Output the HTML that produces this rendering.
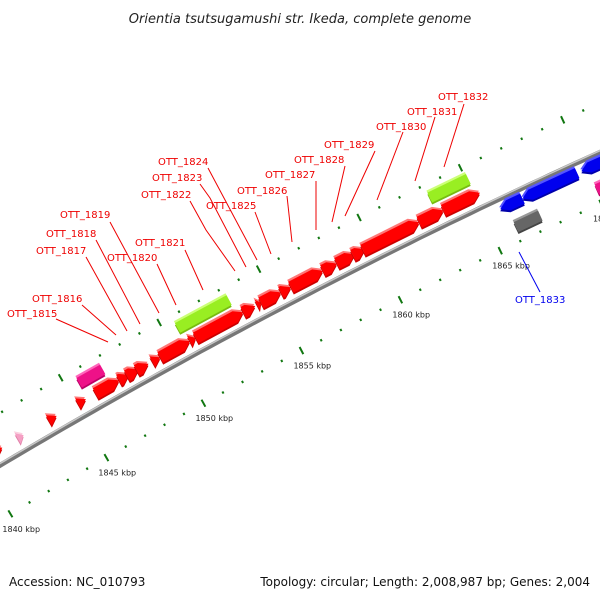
<!DOCTYPE html>
<html><head><meta charset="utf-8"><style>
html,body{margin:0;padding:0;background:#fff;}
svg{display:block;font-family:"DejaVu Sans","Liberation Sans",sans-serif;}
</style></head><body>
<svg id="map" width="600" height="600" viewBox="0 0 600 600" xmlns="http://www.w3.org/2000/svg">
<text x="300" y="23" text-anchor="middle" font-size="13" font-style="italic" fill="#222">Orientia tsutsugamushi str. Ikeda, complete genome</text>
<g id="ticks"></g>
<g id="backbone"></g>
<g id="genes"></g>
<g id="labels"></g>
<text x="9" y="586" font-size="12" fill="#111">Accession: NC_010793</text>
<text x="590" y="586" text-anchor="end" font-size="12" fill="#111">Topology: circular; Length: 2,008,987 bp; Genes: 2,004</text>
</svg>
<script>
const geneStart = [1840.6,1842.0,1843.6,1845.1,1846.0,1847.2,1847.6,1848.1,1848.9,1849.3,1850.8,1851.1,1853.5,1854.2,1854.4,1855.4,1855.9,1857.5,1858.2,1859.0,1859.5,1862.3,1863.5,1850.6,1863.2,1845.6,1865.8,1866.9,1869.8,1866.1,1870.1];
const geneEnd   = [1841.2,1842.3,1844.0,1845.5,1847.2,1847.7,1848.2,1848.7,1849.3,1850.8,1851.1,1853.5,1854.1,1854.4,1855.4,1855.9,1857.5,1858.2,1859.1,1859.6,1862.3,1863.5,1865.3,1853.2,1865.1,1846.8,1866.9,1869.6,1873.0,1867.3,1873.0];
const geneTrack = ['fwd','fwd','fwd','fwd','fwd','fwd','fwd','fwd','fwd','fwd','fwd','fwd','fwd','fwd','fwd','fwd','fwd','fwd','fwd','fwd','fwd','fwd','fwd','outer','outer','outer','rev','rev','rev','inner','inner'];
const geneColor = ['red','pinklight','red','red','red','red','red','red','red','red','red','red','red','red','red','red','red','red','red','red','red','red','red','lime','lime','pink','blue','blue','blue','gray','pink'];
const majorTicks = [1840,1845,1850,1855,1860,1865,1870];
const tickLabels = ['1840 kbp','1845 kbp','1850 kbp','1855 kbp','1860 kbp','1865 kbp','1870 kbp'];
const labelNames = ['OTT_1815','OTT_1816','OTT_1817','OTT_1818','OTT_1819','OTT_1820','OTT_1821','OTT_1822','OTT_1823','OTT_1824','OTT_1825','OTT_1826','OTT_1827','OTT_1828','OTT_1829','OTT_1830','OTT_1831','OTT_1832','OTT_1833'];

const NS='http://www.w3.org/2000/svg';
const CX=3141, CY=5755;
function phi(k){return (-30.85+(k-1840)*0.2088)*Math.PI/180;}
function P(k,r){const a=phi(k);return [CX+r*Math.sin(a), CY-r*Math.cos(a)];}
function el(tag,attrs,parent){const e=document.createElementNS(NS,tag);for(const a in attrs)e.setAttribute(a,attrs[a]);parent.appendChild(e);return e;}

// backbone
const bb=document.getElementById('backbone');
function arcPath(r){let d='';for(let k=1836;k<=1876;k+=0.5){const p=P(k,r);d+=(d?'L':'M')+p[0].toFixed(1)+','+p[1].toFixed(1);}return d;}
let b1=el('path',{d:arcPath(6152),stroke:'#777',"stroke-width":5,fill:'none'},bb);


let b2=el('path',{d:arcPath(6153.5),stroke:'#c8c8c8',"stroke-width":1.5,fill:'none'},bb);



// ticks
const tg=document.getElementById('ticks');
const rows=[6197,6105];
for(let k=1836;k<=1876;k++){
  for(const r of rows){
    const major=(k%5===0);
    if(major){
      const a=P(k,r-4),b=P(k,r+4);
      const t=el('line',{x1:a[0],y1:a[1],x2:b[0],y2:b[1],stroke:'#117711',"stroke-width":2},tg);
      
      
    }else{
      const a=P(k,r-1.2),b=P(k,r+1.2);
      const t=el('line',{x1:a[0],y1:a[1],x2:b[0],y2:b[1],stroke:'#117711',"stroke-width":2},tg);
      
      
    }
  }
}
majorTicks.forEach((k,i)=>{
  const p=P(k,6105);
  const t=el('text',{x:p[0]-8,y:p[1]+18,"font-size":8,fill:'#222'},tg);
  t.textContent=tickLabels[i];
  
  
});

// genes
const gg=document.getElementById('genes');
const trackR={fwd:[6160,6172],outer:[6178,6189],rev:[6137,6148],inner:[6114,6125]};
const colors={red:['#ff0000','#ff7777','#cc0000'],pinklight:['#f5a0c4','#fbd0e0','#e080a8'],lime:['#99ee22','#ccff77','#77bb11'],pink:['#ee1188','#ff66bb','#bb0066'],blue:['#0000ee','#5555ff','#0000aa'],gray:['#666666','#999999','#444444']};
const H=0.4;
geneStart.forEach((s,i)=>{
  const e=geneEnd[i],tr=geneTrack[i],[r0,r1]=trackR[tr],rm=(r0+r1)/2;
  let pts;
  if(tr==='fwd'){
    const kh=Math.max(s,e-H);
    pts=[P(s,r0),P(kh,r0),P(e,rm),P(kh,r1),P(s,r1)];
  }else if(tr==='rev'){
    const kh=Math.min(e,s+H);
    pts=[P(s,rm),P(kh,r0),P(e,r0),P(e,r1),P(kh,r1)];
  }else{
    pts=[P(s,r0),P(e,r0),P(e,r1),P(s,r1)];
  }
  const c=colors[geneColor[i]];
  const str=(dx,dy)=>pts.map(p=>(p[0]+dx).toFixed(1)+','+(p[1]+dy).toFixed(1)).join(' ');
  const sh=el('polygon',{points:str(0,2),fill:c[2]},gg);
  
  
  const top=el('polygon',{points:str(-1,-2),fill:c[1]},gg);
  
  
  const g=el('polygon',{points:str(0,0),fill:c[0]},gg);
  
  
});

// labels (annotation callouts)
const lg=document.getElementById('labels');
const labelPos=[[7,317],[32,302],[36,254],[46,237],[60,218],[107,261],[135,246],[141,198],[152,181],[158,165],[206,209],[237,194],[265,178],[294,163],[324,148],[376,130],[407,115],[438,100],[515,303]];
const leader=[
 [[56,319],[108,342]],[[82,305],[116,335]],[[86,257],[127,331]],[[96,240],[140,324]],[[110,222],[159,313]],
 [[157,264],[176,305]],[[185,250],[203,290]],[[190,201],[206,230],[235,271]],[[200,184],[210,198],[246,267]],
 [[208,168],[257,260]],[[255,212],[271,254]],[[287,196],[292,242]],[[316,181],[316,230]],[[345,166],[332,222]],
 [[375,151],[345,216]],[[403,132],[377,200]],[[435,117],[415,181]],[[464,104],[444,167]],[[540,292],[519,252]]];
labelNames.forEach((n,i)=>{
  const col=(n==='OTT_1833')?'#0000ee':'#ee0000';
  const pl=el('polyline',{points:leader[i].map(p=>p.join(',')).join(' '),stroke:col,"stroke-width":1,fill:'none'},lg);
  
  
  const t=el('text',{x:labelPos[i][0],y:labelPos[i][1],"font-size":10,fill:col},lg);
  t.textContent=n;
  
  
});
</script>
</body></html>
